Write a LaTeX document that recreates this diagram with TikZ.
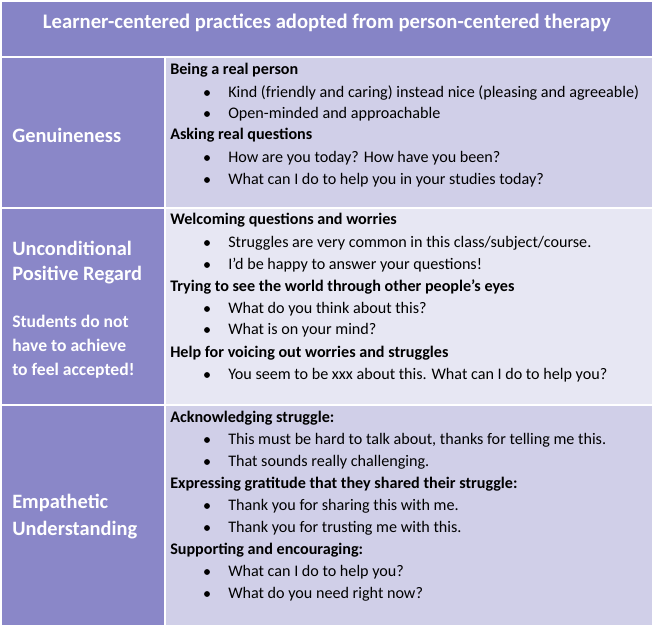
\documentclass[tikz,border=0pt]{standalone}
\usepackage{fontspec}
\setmainfont{Carlito}
\usetikzlibrary{positioning}
\definecolor{hdrpurple}{HTML}{8684C6}
\definecolor{leftpurple}{HTML}{8A87C8}
\definecolor{cellpale}{HTML}{D0CFE8}
\definecolor{celllight}{HTML}{E7E7F3}
\tikzset{
  cellline/.style={draw=white, line width=1.2pt},
  head/.style={anchor=west, font=\bfseries\fontsize{12.1}{14}\selectfont, inner sep=0pt},
  entry/.style={anchor=west, font=\fontsize{12.1}{14}\selectfont, inner sep=0pt},
  bul/.style={circle, fill=black, inner sep=0pt, minimum size=4.4pt},
  lbl/.style={anchor=west, text=white, font=\bfseries\fontsize{15.3}{20}\selectfont, inner sep=0pt},
  sublbl/.style={anchor=west, text=white, font=\bfseries\fontsize{13.2}{18}\selectfont, align=left, inner sep=0pt},
}
% bullet line: \bline{name}{y}{text}
\newcommand{\bline}[3]{%
  \node[bul] (#1b) at (207,#2) {};
  \node[entry] (#1) at (228,#2) {#3};}
\begin{document}
\begin{tikzpicture}[x=0.75pt, y=-0.75pt]
  \useasboundingbox (0,0) rectangle (655,627);
  \fill[white] (0,0) rectangle (655,627);

  %% cells
  \fill[hdrpurple] (2,2) rectangle (652,57);
  \fill[leftpurple] (2,57) rectangle (165,625);
  \fill[cellpale] (165,57) rectangle (652,208);
  \fill[celllight] (165,208) rectangle (652,405);
  \fill[cellpale] (165,405) rectangle (652,625);
  \draw[cellline] (2,57) -- (652,57);
  \draw[cellline] (2,208) -- (652,208);
  \draw[cellline] (2,405) -- (652,405);
  \draw[cellline] (165,57) -- (165,625);

  \node[text=white, font=\bfseries\fontsize{15.5}{17}\selectfont] (title) at (327,23)
    {Learner-centered practices adopted from person-centered therapy};

  %% Genuineness
  \node[lbl] (gen) at (12,135) {Genuineness};
  \node[head] (g1) at (170,70) {Being a real person};
  \bline{g2}{93}{Kind (friendly and caring) instead nice (pleasing and agreeable)}
  \bline{g3}{114}{Open-minded and approachable}
  \node[head] (g4) at (170,135) {Asking real questions};
  \bline{g5}{158}{How are you today? How have you been?}
  \bline{g6}{180}{What can I do to help you in your studies today?}

  %% Unconditional positive regard
  \node[lbl] (upr1) at (12,248) {Unconditional};
  \node[lbl] (upr2) at (12,275) {Positive Regard};
  \node[sublbl] (upr3) at (12,347) {Students do not\\have to achieve\\to feel accepted!};
  \node[head] (u1) at (170,220) {Welcoming questions and worries};
  \bline{u2}{243}{Struggles are very common in this class/subject/course.}
  \bline{u3}{265}{I’d be happy to answer your questions!}
  \node[head] (u4) at (170,287) {Trying to see the world through other people’s eyes};
  \bline{u5}{309}{What do you think about this?}
  \bline{u6}{330}{What is on your mind?}
  \node[head] (u7) at (170,353) {Help for voicing out worries and struggles};
  \bline{u8}{375}{You seem to be xxx about this. What can I do to help you?}

  %% Empathetic understanding
  \node[lbl] (emp1) at (12,503) {Empathetic};
  \node[lbl] (emp2) at (12,530) {Understanding};
  \node[head] (e1) at (170,418) {Acknowledging struggle:};
  \bline{e2}{440}{This must be hard to talk about, thanks for telling me this.}
  \bline{e3}{462}{That sounds really challenging.}
  \node[head] (e4) at (170,484) {Expressing gratitude that they shared their struggle:};
  \bline{e5}{506}{Thank you for sharing this with me.}
  \bline{e6}{528}{Thank you for trusting me with this.}
  \node[head] (e7) at (170,550) {Supporting and encouraging:};
  \bline{e8}{572}{What can I do to help you?}
  \bline{e9}{594}{What do you need right now?}
\end{tikzpicture}
\end{document}
